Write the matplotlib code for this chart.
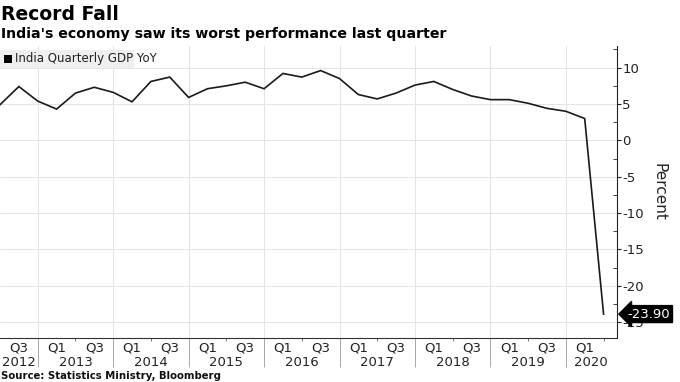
import numpy as np
import matplotlib
matplotlib.use("Agg")
import matplotlib.pyplot as plt
import matplotlib.transforms as mtransforms

# quarterly GDP growth, Q2 2012 .. Q2 2020 (quarter index 0 = Jun 2012)
GDP_YOY = [4.9, 7.4, 5.4, 4.3, 6.5, 7.3, 6.6, 5.3, 8.1, 8.7, 5.9,
           7.1, 7.5, 8.0, 7.1, 9.2, 8.7, 9.6, 8.5, 6.3, 5.7, 6.5,
           7.6, 8.1, 7.0, 6.1, 5.6, 5.6, 5.1, 4.4, 4.0, 3.0, -23.9]
YEARS = [2012, 2013, 2014, 2015, 2016, 2017, 2018, 2019, 2020]
Y_TICKS = [10, 5, 0, -5, -10, -15, -20, -25]

NARROW = ["Liberation Sans Narrow", "DejaVu Sans"]
BOLD = ["DejaVu Sans"]

t = np.arange(len(GDP_YOY))
xmax = 32.7

fig = plt.figure(figsize=(6.8, 3.82), dpi=100)
ax = fig.add_axes([0.0, 0.115, 0.907, 0.765])

ax.plot(t, GDP_YOY, color="#1a1a1a", linewidth=1.2, solid_joinstyle="miter")
ax.set_xlim(0, xmax)
ax.set_ylim(-27.2, 13.0)

# y axis on the right
ax.yaxis.tick_right()
ax.set_yticks(Y_TICKS)
ax.set_yticklabels([str(v) for v in Y_TICKS], family=NARROW, fontsize=9.5, color="#222")
ax.set_yticks(np.arange(-25, 12.6, 2.5), minor=True)
ax.tick_params(axis="y", which="major", direction="out", length=3, width=0.8, pad=1, colors="#222")
ax.tick_params(axis="y", which="minor", direction="in", length=3, width=0.6, colors="#222")
ax.yaxis.set_label_position("right")
ax.set_ylabel("Percent", family=NARROW, fontsize=11, rotation=270, labelpad=16, color="#222")

# x axis: year separators as long ticks, mid-year short ticks
sep = [2 + 4 * i for i in range(8)]
ax.set_xticks(sep)
ax.set_xticklabels([])
ax.set_xticks([4 + 4 * i for i in range(8)], minor=True)
ax.tick_params(axis="x", which="major", direction="out", length=21, width=0.6, color="#999")
ax.tick_params(axis="x", which="minor", direction="out", length=2.5, width=0.6, color="#666")

for s in ["left", "top"]:
    ax.spines[s].set_visible(False)
ax.spines["right"].set_color("#222")
ax.spines["right"].set_linewidth(0.8)
ax.spines["bottom"].set_color("#333")
ax.spines["bottom"].set_linewidth(0.8)

ax.grid(True, which="major", color="#e4e4e4", linewidth=0.7)
ax.set_axisbelow(True)

trans = mtransforms.blended_transform_factory(ax.transData, ax.transAxes)
for q in range(1, 31, 4):
    ax.text(q, -0.035, "Q3", transform=trans, ha="center", va="center",
            family=NARROW, fontsize=9.5, color="#222")
for q in range(3, 32, 4):
    ax.text(q, -0.035, "Q1", transform=trans, ha="center", va="center",
            family=NARROW, fontsize=9.5, color="#222")
edges = [0] + sep + [xmax]
for i, yr in enumerate(YEARS):
    ax.text((edges[i] + edges[i + 1]) / 2, -0.085, str(yr), transform=trans,
            ha="center", va="center", family=NARROW, fontsize=9.5, color="#222")

# last value label
ax.annotate(f"{GDP_YOY[-1]:.2f}", xy=(xmax, GDP_YOY[-1]), xycoords="data",
            xytext=(8, 0), textcoords="offset points", ha="left", va="center",
            family=NARROW, fontsize=9.5, color="white", annotation_clip=False,
            bbox=dict(boxstyle="larrow,pad=0.15", fc="black", ec="black"))

# legend chip
fig.patches.append(plt.Rectangle((0, 0.822), 0.197, 0.048, transform=fig.transFigure,
                                 facecolor="#efefef", edgecolor="none", zorder=3))
fig.patches.append(plt.Rectangle((0.006, 0.836), 0.011, 0.02, transform=fig.transFigure,
                                 facecolor="black", edgecolor="none", zorder=4))
fig.text(0.022, 0.846, "India Quarterly GDP YoY", family=NARROW, fontsize=8.5,
         color="#222", va="center", ha="left", zorder=5)

fig.text(0.002, 0.963, "Record Fall", family=BOLD, fontweight="bold", fontsize=13.5,
         va="center", ha="left", color="black")
fig.text(0.002, 0.91, "India's economy saw its worst performance last quarter",
         family=BOLD, fontweight="bold", fontsize=10.2, va="center", ha="left", color="black")
fig.text(0.002, 0.015, "Source: Statistics Ministry, Bloomberg", family=BOLD,
         fontweight="bold", fontsize=7.3, va="center", ha="left", color="#111")

fig.savefig("out.png", dpi=100)
